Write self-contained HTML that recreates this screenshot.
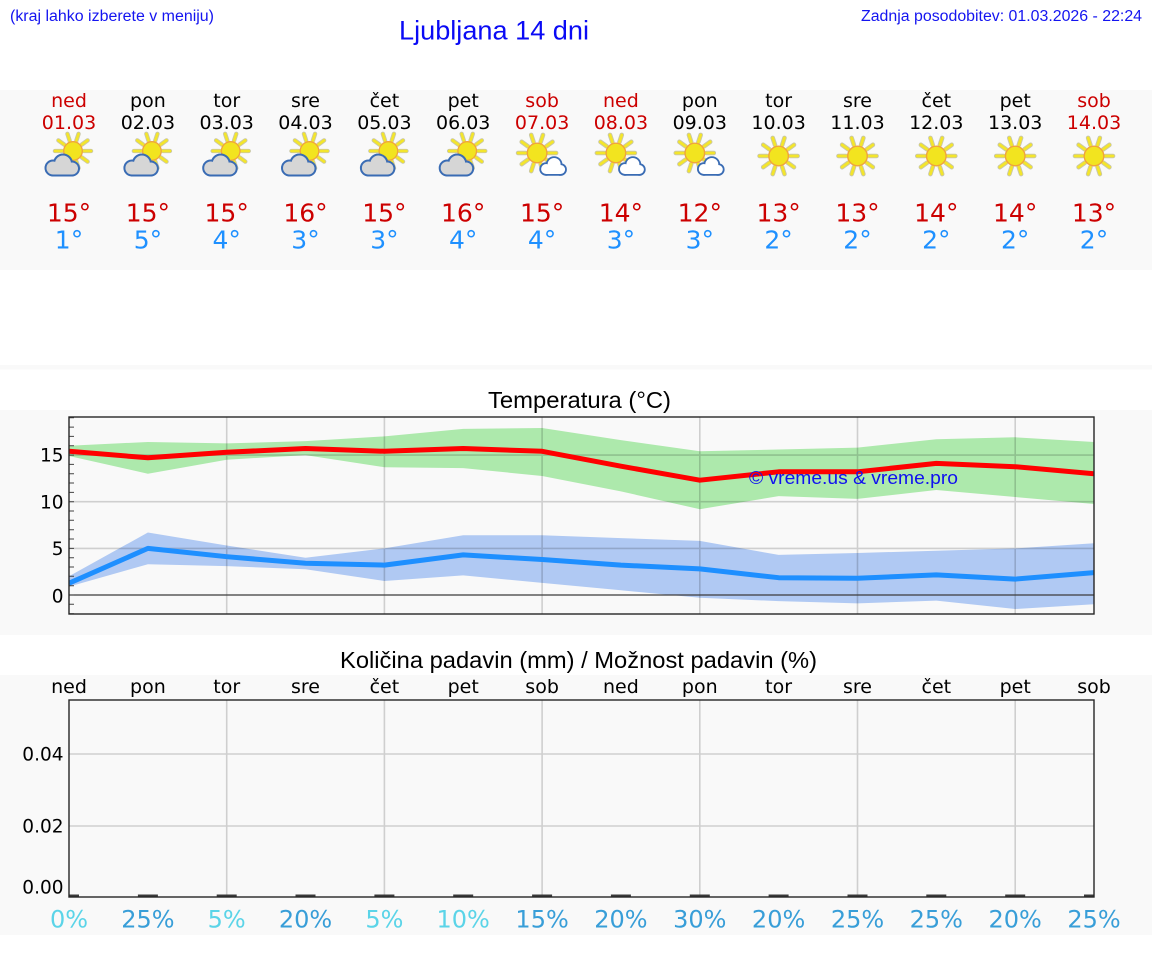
<!DOCTYPE html>
<html><head><meta charset="utf-8"><style>
html,body{margin:0;padding:0;background:#fff;}
svg{display:block;}
.dj{font-family:"DejaVu Sans",sans-serif;}
.lb{font-family:"Liberation Sans",Arial,sans-serif;}
</style></head><body>
<svg width="1152" height="975" viewBox="0 0 1152 975" xmlns="http://www.w3.org/2000/svg">
<defs>
<g id="sun">
 <path d="M11.5 0 L19 0 M9.3 6.76 L15.37 11.17 M3.55 10.94 L5.87 18.07 M-3.55 10.94 L-5.87 18.07 M-9.3 6.76 L-15.37 11.17 M-11.5 0 L-19 0 M-9.3 -6.76 L-15.37 -11.17 M-3.55 -10.94 L-5.87 -18.07 M3.55 -10.94 L5.87 -18.07 M9.3 -6.76 L15.37 -11.17" stroke="#c9c7a8" stroke-width="4.6" stroke-linecap="round"/>
 <path d="M11.5 0 L19 0 M9.3 6.76 L15.37 11.17 M3.55 10.94 L5.87 18.07 M-3.55 10.94 L-5.87 18.07 M-9.3 6.76 L-15.37 11.17 M-11.5 0 L-19 0 M-9.3 -6.76 L-15.37 -11.17 M-3.55 -10.94 L-5.87 -18.07 M3.55 -10.94 L5.87 -18.07 M9.3 -6.76 L15.37 -11.17" stroke="#f3e52c" stroke-width="2.8" stroke-linecap="round"/>
 <circle r="9.8" fill="#f2e41f" stroke="#f0a43c" stroke-width="1.4"/>
</g>
<g id="cloudA">
 <g fill="#3a6cb4" stroke="#3a6cb4" stroke-width="4" stroke-linejoin="round">
  <circle cx="-16" cy="168" r="6.5"/><circle cx="-6" cy="163.5" r="8"/><circle cx="3" cy="168.5" r="6"/><rect x="-16" y="168" width="19" height="6.5"/>
 </g>
 <g fill="#d6d6d6">
  <circle cx="-16" cy="168" r="6.5"/><circle cx="-6" cy="163.5" r="8"/><circle cx="3" cy="168.5" r="6"/><rect x="-16" y="168" width="19" height="6.5"/>
 </g>
</g>
<g id="cloudB">
 <g fill="#3a6cb4" stroke="#3a6cb4" stroke-width="3.6" stroke-linejoin="round">
  <circle cx="4" cy="169" r="5"/><circle cx="12" cy="164.5" r="6.5"/><circle cx="18.5" cy="169.5" r="4.5"/><rect x="4" y="169" width="14.5" height="5"/>
 </g>
 <g fill="#ffffff">
  <circle cx="4" cy="169" r="5"/><circle cx="12" cy="164.5" r="6.5"/><circle cx="18.5" cy="169.5" r="4.5"/><rect x="4" y="169" width="14.5" height="5"/>
 </g>
</g>
<g id="iconA"><use href="#sun" transform="translate(4,151) scale(0.95)"/><use href="#cloudA"/></g>
<g id="iconB"><use href="#sun" transform="translate(-5,153)"/><use href="#cloudB"/></g>
<g id="iconC"><use href="#sun" transform="translate(0,156)"/></g>
<clipPath id="ct"><rect x="69" y="417" width="1025" height="197"/></clipPath>
<clipPath id="cp"><rect x="69" y="700" width="1025" height="197"/></clipPath>
</defs>

<rect x="0" y="0" width="1152" height="975" fill="#ffffff"/>
<rect x="0" y="90" width="1152" height="180" fill="#f9f9f9"/>
<rect x="0" y="365" width="1152" height="4.5" fill="#f9f9f9"/>
<rect x="0" y="410" width="1152" height="225" fill="#f9f9f9"/>
<rect x="0" y="675" width="1152" height="260" fill="#f9f9f9"/>

<!-- header -->
<text class="lb" x="10" y="21" font-size="15.5" fill="#1414f0" textLength="204" lengthAdjust="spacingAndGlyphs">(kraj lahko izberete v meniju)</text>
<text class="lb" x="399" y="39.5" font-size="26.5" fill="#0a0af5" textLength="190" lengthAdjust="spacingAndGlyphs">Ljubljana 14 dni</text>
<text class="lb" x="861" y="21" font-size="15.5" fill="#1414f0" textLength="281" lengthAdjust="spacingAndGlyphs">Zadnja posodobitev: 01.03.2026 - 22:24</text>

<!-- forecast table -->
<g class="dj" font-size="19" text-anchor="middle">
<text x="69" y="107" fill="#cc0000">ned</text>
<text x="147.9" y="107" fill="#000">pon</text>
<text x="226.7" y="107" fill="#000">tor</text>
<text x="305.5" y="107" fill="#000">sre</text>
<text x="384.4" y="107" fill="#000">čet</text>
<text x="463.2" y="107" fill="#000">pet</text>
<text x="542.1" y="107" fill="#cc0000">sob</text>
<text x="620.9" y="107" fill="#cc0000">ned</text>
<text x="699.8" y="107" fill="#000">pon</text>
<text x="778.6" y="107" fill="#000">tor</text>
<text x="857.5" y="107" fill="#000">sre</text>
<text x="936.3" y="107" fill="#000">čet</text>
<text x="1015.2" y="107" fill="#000">pet</text>
<text x="1094" y="107" fill="#cc0000">sob</text>

<text x="69" y="129" fill="#cc0000">01.03</text>
<text x="147.9" y="129" fill="#000">02.03</text>
<text x="226.7" y="129" fill="#000">03.03</text>
<text x="305.5" y="129" fill="#000">04.03</text>
<text x="384.4" y="129" fill="#000">05.03</text>
<text x="463.2" y="129" fill="#000">06.03</text>
<text x="542.1" y="129" fill="#cc0000">07.03</text>
<text x="620.9" y="129" fill="#cc0000">08.03</text>
<text x="699.8" y="129" fill="#000">09.03</text>
<text x="778.6" y="129" fill="#000">10.03</text>
<text x="857.5" y="129" fill="#000">11.03</text>
<text x="936.3" y="129" fill="#000">12.03</text>
<text x="1015.2" y="129" fill="#000">13.03</text>
<text x="1094" y="129" fill="#cc0000">14.03</text>
</g>

<use href="#iconA" x="69"/>
<use href="#iconA" x="147.9"/>
<use href="#iconA" x="226.7"/>
<use href="#iconA" x="305.5"/>
<use href="#iconA" x="384.4"/>
<use href="#iconA" x="463.2"/>
<use href="#iconB" x="542.1"/>
<use href="#iconB" x="620.9"/>
<use href="#iconB" x="699.8"/>
<use href="#iconC" x="778.6"/>
<use href="#iconC" x="857.5"/>
<use href="#iconC" x="936.3"/>
<use href="#iconC" x="1015.2"/>
<use href="#iconC" x="1094"/>

<g class="dj" font-size="25" text-anchor="middle" fill="#cc0000">
<text x="69" y="221.5">15°</text>
<text x="147.9" y="221.5">15°</text>
<text x="226.7" y="221.5">15°</text>
<text x="305.5" y="221.5">16°</text>
<text x="384.4" y="221.5">15°</text>
<text x="463.2" y="221.5">16°</text>
<text x="542.1" y="221.5">15°</text>
<text x="620.9" y="221.5">14°</text>
<text x="699.8" y="221.5">12°</text>
<text x="778.6" y="221.5">13°</text>
<text x="857.5" y="221.5">13°</text>
<text x="936.3" y="221.5">14°</text>
<text x="1015.2" y="221.5">14°</text>
<text x="1094" y="221.5">13°</text>
</g>
<g class="dj" font-size="25" text-anchor="middle" fill="#1e90ff">
<text x="69" y="248.5">1°</text>
<text x="147.9" y="248.5">5°</text>
<text x="226.7" y="248.5">4°</text>
<text x="305.5" y="248.5">3°</text>
<text x="384.4" y="248.5">3°</text>
<text x="463.2" y="248.5">4°</text>
<text x="542.1" y="248.5">4°</text>
<text x="620.9" y="248.5">3°</text>
<text x="699.8" y="248.5">3°</text>
<text x="778.6" y="248.5">2°</text>
<text x="857.5" y="248.5">2°</text>
<text x="936.3" y="248.5">2°</text>
<text x="1015.2" y="248.5">2°</text>
<text x="1094" y="248.5">2°</text>
</g>

<!-- Temperature chart -->
<text class="lb" x="488" y="408" font-size="23" fill="#000" textLength="183" lengthAdjust="spacingAndGlyphs">Temperatura (°C)</text>
<g clip-path="url(#ct)">
<polygon fill="#ade9ac" points="69,445.7 147.9,442.0 226.7,443.4 305.5,441.1 384.4,436.4 463.2,428.9 542.1,428.0 620.9,440.1 699.8,451.3 778.6,449.5 857.5,447.6 936.3,439.2 1015.2,437.3 1094,442.0 1094,504.0 1015.2,497.0 936.3,490.0 857.5,498.9 778.6,496.1 699.8,509.2 620.9,491.4 542.1,476.0 463.2,468.1 384.4,467.2 305.5,455.1 226.7,459.7 147.9,473.7 69,456.0"/>
<polygon fill="#b0c9f3" points="69,576.3 147.9,532.5 226.7,545.5 305.5,557.7 384.4,548.4 463.2,535.3 542.1,535.3 620.9,538.1 699.8,540.9 778.6,554.9 857.5,553.0 936.3,550.7 1015.2,548.4 1094,543.2 1094,604.3 1015.2,609.0 936.3,600.6 857.5,603.4 778.6,601.1 699.8,597.8 620.9,590.3 542.1,582.9 463.2,575.4 384.4,581.0 305.5,569.3 226.7,566.1 147.9,564.2 69,586.6"/>
<path d="M226.7 417V614M384.4 417V614M542.1 417V614M699.8 417V614M857.5 417V614M1015.2 417V614M69 548.4H1094M69 501.7H1094M69 455.1H1094" stroke="rgba(0,0,0,0.17)" stroke-width="1.6" fill="none"/>
<path d="M69 595H1094" stroke="#3c3c3c" stroke-width="1.2"/>
<polyline fill="none" stroke="#ff0000" stroke-width="5" stroke-linejoin="round" points="69,451.3 147.9,457.8 226.7,452.3 305.5,448.5 384.4,451.3 463.2,448.5 542.1,451.3 620.9,466.2 699.8,480.2 778.6,471.8 857.5,471.8 936.3,463.4 1015.2,466.7 1094,473.7"/>
<polyline fill="none" stroke="#1e8fff" stroke-width="5" stroke-linejoin="round" points="69,583.2 147.9,548.4 226.7,556.7 305.5,563.3 384.4,565.1 463.2,554.9 542.1,559.5 620.9,565.1 699.8,568.9 778.6,577.7 857.5,578.2 936.3,574.9 1015.2,579.1 1094,572.6"/>
</g>
<path d="M69 613.7h5M69 604.3h5M69 595h5M69 585.7h5M69 576.3h5M69 567h5M69 557.7h5M69 548.4h5M69 539h5M69 529.7h5M69 520.3h5M69 511h5M69 501.7h5M69 492.4h5M69 483h5M69 473.7h5M69 464.4h5M69 455.1h5M69 445.7h5M69 436.4h5M69 427.1h5M69 417.7h5" stroke="#444" stroke-width="1"/>
<rect x="69" y="417" width="1025" height="197" fill="none" stroke="#262626" stroke-width="1.4"/>
<text class="lb" x="749" y="484" font-size="18" fill="#1010f0" textLength="209" lengthAdjust="spacingAndGlyphs">© vreme.us &amp; vreme.pro</text>
<g class="dj" font-size="18.5" text-anchor="end" fill="#000">
<text x="63.5" y="602.5">0</text>
<text x="63.5" y="555">5</text>
<text x="63.5" y="508.3">10</text>
<text x="63.5" y="461.7">15</text>
</g>

<!-- Precipitation chart -->
<text class="lb" x="340" y="668" font-size="23" fill="#000" textLength="477" lengthAdjust="spacingAndGlyphs">Količina padavin (mm) / Možnost padavin (%)</text>
<g class="dj" font-size="19" text-anchor="middle" fill="#000">
<text x="69" y="693">ned</text>
<text x="147.9" y="693">pon</text>
<text x="226.7" y="693">tor</text>
<text x="305.5" y="693">sre</text>
<text x="384.4" y="693">čet</text>
<text x="463.2" y="693">pet</text>
<text x="542.1" y="693">sob</text>
<text x="620.9" y="693">ned</text>
<text x="699.8" y="693">pon</text>
<text x="778.6" y="693">tor</text>
<text x="857.5" y="693">sre</text>
<text x="936.3" y="693">čet</text>
<text x="1015.2" y="693">pet</text>
<text x="1094" y="693">sob</text>
</g>
<path d="M226.7 700V897M384.4 700V897M542.1 700V897M699.8 700V897M857.5 700V897M1015.2 700V897M69 754H1094M69 826H1094" stroke="rgba(0,0,0,0.17)" stroke-width="1.6" fill="none"/>
<g clip-path="url(#cp)" fill="#3a3a3a">
<rect x="59" y="894.5" width="20" height="3"/>
<rect x="137.9" y="894.5" width="20" height="3"/>
<rect x="216.7" y="894.5" width="20" height="3"/>
<rect x="295.5" y="894.5" width="20" height="3"/>
<rect x="374.4" y="894.5" width="20" height="3"/>
<rect x="453.2" y="894.5" width="20" height="3"/>
<rect x="532.1" y="894.5" width="20" height="3"/>
<rect x="610.9" y="894.5" width="20" height="3"/>
<rect x="689.8" y="894.5" width="20" height="3"/>
<rect x="768.6" y="894.5" width="20" height="3"/>
<rect x="847.5" y="894.5" width="20" height="3"/>
<rect x="926.3" y="894.5" width="20" height="3"/>
<rect x="1005.2" y="894.5" width="20" height="3"/>
<rect x="1084" y="894.5" width="20" height="3"/>
</g>
<rect x="69" y="700" width="1025" height="197" fill="none" stroke="#262626" stroke-width="1.4"/>
<g class="dj" font-size="18.5" text-anchor="end" fill="#000">
<text x="63.5" y="760.5">0.04</text>
<text x="63.5" y="832.5">0.02</text>
<text x="63.5" y="893.5">0.00</text>
</g>
<g class="dj" font-size="24" text-anchor="middle">
<text x="69" y="927.5" fill="#5bd4e8">0%</text>
<text x="147.9" y="927.5" fill="#389ed8">25%</text>
<text x="226.7" y="927.5" fill="#5bd4e8">5%</text>
<text x="305.5" y="927.5" fill="#389ed8">20%</text>
<text x="384.4" y="927.5" fill="#5bd4e8">5%</text>
<text x="463.2" y="927.5" fill="#5bd4e8">10%</text>
<text x="542.1" y="927.5" fill="#389ed8">15%</text>
<text x="620.9" y="927.5" fill="#389ed8">20%</text>
<text x="699.8" y="927.5" fill="#389ed8">30%</text>
<text x="778.6" y="927.5" fill="#389ed8">20%</text>
<text x="857.5" y="927.5" fill="#389ed8">25%</text>
<text x="936.3" y="927.5" fill="#389ed8">25%</text>
<text x="1015.2" y="927.5" fill="#389ed8">20%</text>
<text x="1094" y="927.5" fill="#389ed8">25%</text>
</g>
</svg>
</body></html>
